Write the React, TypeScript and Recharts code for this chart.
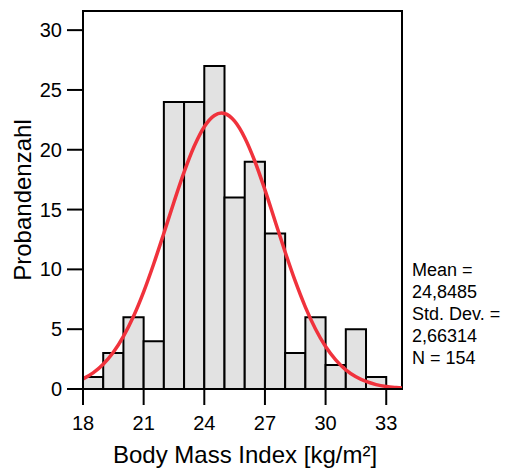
import React from 'react';
import { ComposedChart, Line, XAxis, YAxis, ReferenceArea } from 'recharts';

// Histogram bins (lower edge, width 1) and counts
const binStarts = [18, 19, 20, 21, 22, 23, 24, 25, 26, 27, 28, 29, 30, 31, 32];
const binCounts = [1, 3, 6, 4, 24, 24, 27, 16, 19, 13, 3, 6, 2, 5, 1];

// Fitted normal curve
const curveX = [18, 18.5, 19, 19.5, 20, 20.5, 21, 21.5, 22, 22.5, 23, 23.5, 24, 24.5, 24.85, 25, 25.5, 26, 26.5, 27, 27.5, 28, 28.5, 29, 29.5, 30, 30.5, 31, 31.5, 32, 32.5, 33, 33.5, 33.78];
const curveY = [0.85, 1.35, 2.07, 3.07, 4.4, 6.08, 8.12, 10.47, 13.02, 15.64, 18.13, 20.29, 21.93, 22.87, 23.07, 23.03, 22.39, 21.01, 19.04, 16.65, 14.05, 11.45, 9.01, 6.85, 5.02, 3.55, 2.43, 1.6, 1.02, 0.63, 0.37, 0.21, 0.12, 0.08];

const xTicks = [18, 21, 24, 27, 30, 33];
const yTicks = [0, 5, 10, 15, 20, 25, 30];
const xDomain = [18, 33.78];
const yDomain = [0, 31.6];

const statsLines = ['Mean =', '24,8485', 'Std. Dev. =', '2,66314', 'N = 154'];
const xTitle = 'Body Mass Index [kg/m²]';
const yTitle = 'Probandenzahl';

const FONT = '"Liberation Sans", Arial, sans-serif';
const RED = '#f0323c';

const curveData = curveX.map((x, i) => ({ x, y: curveY[i] }));

export default function App() {
  return (
    <div style={{ position: 'absolute', left: 0, top: 0, width: 505, height: 469, background: '#fff', fontFamily: FONT }}>
      <ComposedChart
        width={505}
        height={469}
        data={curveData}
        margin={{ top: 11, right: 103, bottom: 0, left: 0 }}
        style={{ fontFamily: FONT }}
      >
        <XAxis
          dataKey="x"
          type="number"
          domain={xDomain}
          ticks={xTicks}
          allowDataOverflow
          height={80}
          tickSize={16}
          tickMargin={11}
          axisLine={{ stroke: '#000', strokeWidth: 2 }}
          tickLine={{ stroke: '#000', strokeWidth: 2 }}
          tick={{ fill: '#000', fontSize: 20, fontFamily: FONT }}
          label={{
            content: () => (
              <text x={245} y={463} textAnchor="middle" fontSize={24} fontFamily={FONT} fill="#000">
                {xTitle}
              </text>
            ),
          }}
        />
        <YAxis
          type="number"
          domain={yDomain}
          ticks={yTicks}
          allowDataOverflow
          width={83}
          tickSize={16}
          tickMargin={5}
          axisLine={{ stroke: '#000', strokeWidth: 2 }}
          tickLine={{ stroke: '#000', strokeWidth: 2 }}
          tick={{ fill: '#000', fontSize: 20, fontFamily: FONT }}
          label={{
            content: () => (
              <text
                x={22}
                y={200}
                transform="rotate(-90, 22, 200)"
                textAnchor="middle"
                dominantBaseline="central"
                fontSize={24}
                fontFamily={FONT}
                fill="#000"
              >
                {yTitle}
              </text>
            ),
          }}
        />
        {binStarts.map((s, i) => (
          <ReferenceArea
            key={s}
            x1={s}
            x2={s + 1}
            y1={0}
            y2={binCounts[i]}
            fill="#e2e2e2"
            fillOpacity={1}
            stroke="#000"
            strokeWidth={2}
            ifOverflow="visible"
          />
        ))}
        <Line
          dataKey="y"
          type="monotone"
          stroke={RED}
          strokeWidth={3.5}
          dot={false}
          activeDot={false}
          isAnimationActive={false}
        />
        <ReferenceArea
          x1={xDomain[0]}
          x2={xDomain[1]}
          y1={yDomain[0]}
          y2={yDomain[1]}
          fill="none"
          fillOpacity={0}
          stroke="#000"
          strokeWidth={2}
          ifOverflow="visible"
        />
      </ComposedChart>
      <div
        style={{
          position: 'absolute',
          left: 412,
          top: 259,
          fontSize: 18,
          lineHeight: '22px',
          fontFamily: FONT,
          color: '#000',
          whiteSpace: 'nowrap',
        }}
      >
        {statsLines.map((l) => (
          <div key={l}>{l}</div>
        ))}
      </div>
    </div>
  );
}
